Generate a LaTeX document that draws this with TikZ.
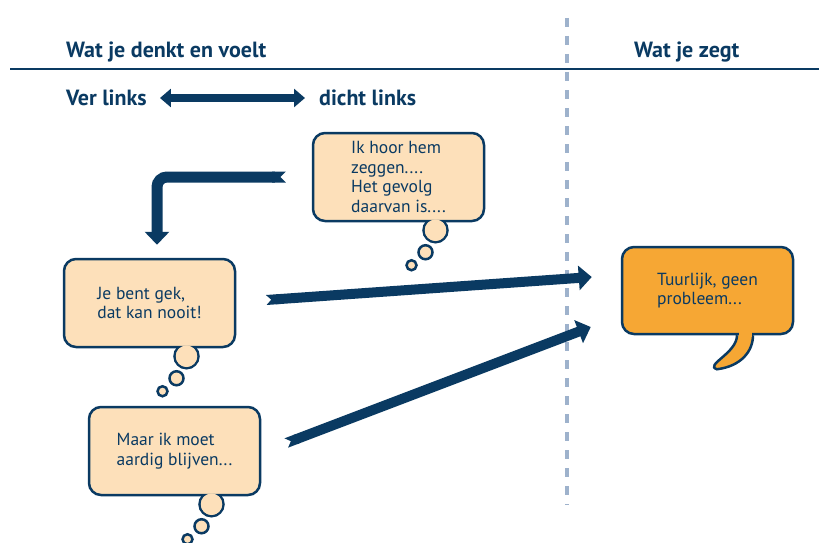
\documentclass[tikz,border=0pt]{standalone}
\usepackage{fontspec}
\setmainfont{PT Sans}
\usepackage{xcolor}
\usetikzlibrary{arrows.meta,backgrounds}
\definecolor{navy}{RGB}{10,58,98}
\definecolor{peach}{RGB}{253,224,186}
\definecolor{orangebubble}{RGB}{246,167,52}
\definecolor{dashgray}{RGB}{158,178,204}

% three thought puffs under a bubble
\newcommand{\puffs}[1]{%
	\begin{scope}[on background layer]
		\draw[puff] ([shift={(37,8)}]#1.south) circle (12pt);
	\end{scope}
	\fill[peach] ([shift={(37,8)}]#1.south) circle (10.75pt);
	\draw[puff] ([shift={(27,30)}]#1.south) circle (7pt);
	\draw[puff] ([shift={(13,43)}]#1.south) circle (5pt);
}

\begin{document}
\begin{tikzpicture}[x=1pt,y=-1pt,
	bubble/.style={rectangle,
		rounded corners=12pt,
		minimum width=171pt,
		minimum height=88pt,
		fill=peach,
		draw=navy,
		line width=2.5pt,
		align=left,
		text=navy,
		font=\fontsize{17.5}{19.5}\selectfont},
	heading/.style={anchor=west, inner sep=0pt, text=navy,
		font=\fontsize{22}{24}\selectfont\bfseries},
	bigarrow/.style={draw=navy, line width=10pt,
		{Triangle Cap[reversed]}-{Triangle[length=13pt,width=24pt]}},
	puff/.style={fill=peach, draw=navy, line width=2.5pt}]
	\useasboundingbox (0,0) rectangle (819,543);
	
	% titres
	\node[heading] (denkt) at (66,52) {Wat je denkt en voelt};
	\node[heading] (zegt) at (634,52) {Wat je zegt};
	\draw[dashgray, line width=4.5pt, dash pattern=on 9pt off 9pt] (567,18) -- (567,505);
	\draw[navy, line width=1.5pt] (10,69) -- (819,69);
	
	\node[heading] (verlinks) at (66,98) {Ver links};
	\node[heading] (dichtlinks) at (319,98) {dicht links};
	\draw[navy, line width=8pt,
		{Triangle[length=11pt,width=18pt]}-{Triangle[length=11pt,width=18pt]},
		shorten <=13pt, shorten >=14pt] (verlinks.east) -- (dichtlinks.west);
	
	% bulles
	\node[bubble] (hoor) at (398.5,177) {Ik hoor hem\\zeggen....\\Het gevolg\\daarvan is....};
	\node[bubble] (gek) at (149.5,303) {Je bent gek,\\dat kan nooit!};
	\node[bubble] (maar) at (174.5,451) {Maar ik moet\\aardig blijven...};
	\node[bubble, fill=orangebubble, minimum height=87pt] (tuur) at (707.5,290.5) {Tuurlijk, geen\\probleem...};
	
	\puffs{hoor}
	\puffs{gek}
	\puffs{maar}
	
	% queue de la bulle orange
	\coordinate (tailA) at ([xshift=29.5pt]tuur.south);
	\coordinate (tailB) at ([xshift=45.5pt]tuur.south);
	\coordinate (tip) at ([shift={(9.5,34)}]tuur.south);
	\begin{scope}[on background layer]
		\filldraw[fill=orangebubble, draw=navy, line width=2.5pt]
			(tailA) .. controls +(0,18) and +(-13,-4) .. (tip)
			.. controls +(24,-3) and +(0,16) .. (tailB);
	\end{scope}
	\fill[orangebubble] ([shift={(1.5,-3)}]tailA) rectangle ([shift={(-1.5,2)}]tailB);
	
	% fleches
	\draw[bigarrow, line width=11pt, rounded corners=10pt, shorten <=26pt, shorten >=13pt]
		(hoor.west) -| ([xshift=7.5pt]gek.north);
	\draw[bigarrow] ([shift={(30,-3)}]gek.east) -- ([shift={(-29,-13.5)}]tuur.west);
	\draw[bigarrow] ([shift={(25,-8)}]maar.east) -- ([shift={(-30,36.5)}]tuur.west);
\end{tikzpicture}
\end{document}
